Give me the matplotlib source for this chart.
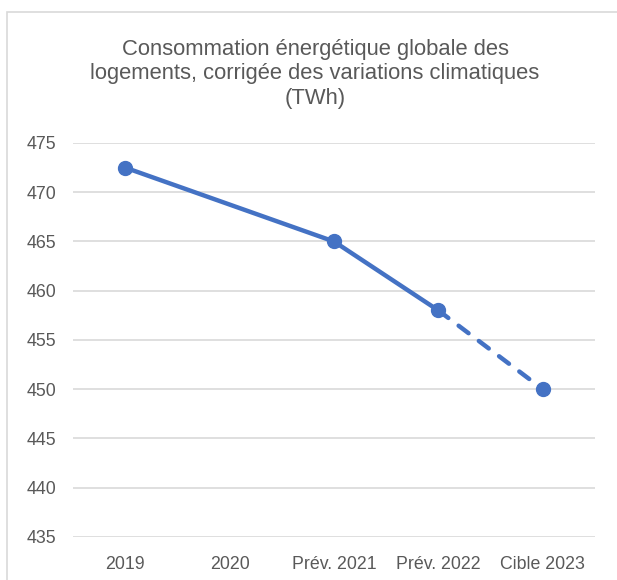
import matplotlib
matplotlib.use("Agg")
import matplotlib.pyplot as plt
from matplotlib.patches import Rectangle
import numpy as np

categories = ["2019", "2020", "Prév. 2021", "Prév. 2022", "Cible 2023"]
values = [472.5, None, 465, 458, 450]
yticks = [435, 440, 445, 450, 455, 460, 465, 470, 475]
title = "Consommation énergétique globale des\nlogements, corrigée des variations climatiques\n(TWh)"

plt.rcParams['font.family'] = ['Liberation Sans', 'DejaVu Sans']

color = "#4472C4"
fig = plt.figure(figsize=(6.17, 5.8), dpi=100)
ax = fig.add_axes([73/617, 1-537/580, (595-73)/617, (537-143)/580])

x = np.arange(len(categories))
pts = [(i, v) for i, v in zip(x, values) if v is not None]
px = [p[0] for p in pts]
py = [p[1] for p in pts]

solid_end = categories.index("Prév. 2022")
sx = [p for p in px if p <= solid_end]
sy = [v for p, v in pts if p <= solid_end]
ax.plot(sx, sy, color=color, lw=3.2, solid_capstyle='round', solid_joinstyle='round', zorder=3)
dx = [p for p in px if p >= solid_end]
dy = [v for p, v in pts if p >= solid_end]
ax.plot(dx, dy, color=color, lw=3.2, linestyle=(0, (2.8, 2.9)), dash_capstyle='round', zorder=3)
ax.plot(px, py, linestyle='none', marker='o', markersize=10, color=color, zorder=4)

ax.set_xlim(-0.5, len(categories) - 0.5)
ax.set_ylim(435, 475)
ax.set_yticks(yticks)
ax.set_xticks(x)
ax.set_xticklabels(categories)
ax.grid(axis='y', color='#d9d9d9', lw=1.2)
ax.set_axisbelow(True)
for s in ax.spines.values():
    s.set_visible(False)
ax.tick_params(length=0, labelsize=12.8, labelcolor='#595959')
ax.tick_params(axis='y', pad=12)
ax.tick_params(axis='x', pad=13.5)

fig.text(315/617, 1-74/580, title, ha='center', va='center', fontsize=15.8,
         color='#595959', linespacing=1.2)

fig.patches.append(Rectangle((7/617, -0.1), 1.0, 1-12/580+0.1,
                             transform=fig.transFigure, fill=False,
                             edgecolor='#d9d9d9', lw=1.2))

fig.savefig("out.png", dpi=100)
